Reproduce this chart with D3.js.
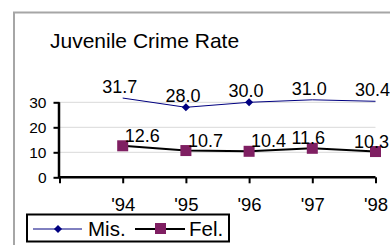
<!DOCTYPE html>
<html>
<head>
<meta charset="utf-8">
<script src="https://d3js.org/d3.v7.min.js"></script>
<style>
  body { margin: 0; background: #fff; }
  svg text { font-family: "Liberation Sans", Arial, sans-serif; fill: #000; }
</style>
</head>
<body>
<div id="chart"></div>
<script>
// values
var years = ["'94", "'95", "'96", "'97", "'98"];
var misdemeanor = [31.7, 28.0, 30.0, 31.0, 30.4];
var felony = [12.6, 10.7, 10.4, 11.6, 10.3];
var yTicks = [0, 10, 20, 30];

var W = 390, H = 245;
var svg = d3.select("#chart").append("svg").attr("width", W).attr("height", H);

// chart frame (right edge is off the picture)
svg.append("path")
  .attr("d", "M14,245 V12.5 H390")
  .attr("fill", "none").attr("stroke", "#a6a6a6").attr("stroke-width", 2);

svg.append("text").attr("x", 50).attr("y", 48)
  .style("font-size", "21px").text("Juvenile Crime Rate");

var x = d3.scaleLinear().domain([0, years.length]).range([59.5, 375.5]);
var y = d3.scaleLinear().domain([0, 30]).range([177.3, 102.3]);

// gridlines
svg.append("g").selectAll("line").data(yTicks.filter(function (d) { return d > 0; }))
  .enter().append("line")
  .attr("x1", x(0)).attr("x2", x(years.length))
  .attr("y1", function (d) { return y(d); }).attr("y2", function (d) { return y(d); })
  .attr("stroke", "#d9d9d9").attr("stroke-width", 1);

// y axis
var yAxis = svg.append("g").attr("transform", "translate(" + x(0) + ",0)")
  .call(d3.axisLeft(y).tickValues(yTicks).tickSize(6).tickPadding(7));
yAxis.selectAll("text").style("font-size", "15.5px");

// x axis
var xAxis = svg.append("g").attr("transform", "translate(0," + y(0) + ")")
  .call(d3.axisBottom(x).ticks(years.length).tickSize(6).tickPadding(15)
    .tickFormat(function (d) { return d > 0 ? years[d - 1] : ""; }));
xAxis.selectAll("text").style("font-size", "18.5px");

[yAxis, xAxis].forEach(function (g) {
  g.select(".domain").attr("stroke", "#000").attr("stroke-width", 2.5);
  g.selectAll(".tick line").attr("stroke", "#000").attr("stroke-width", 2);
});
yAxis.select(".domain").attr("d", "M-0.5," + y(0) + "V" + y(30));
xAxis.select(".domain").attr("d", "M" + x(0) + ",0H" + x(years.length));

var line = d3.line()
  .x(function (d, i) { return x(i + 1); })
  .y(function (d) { return y(d); });

// Mis. series
svg.append("path").datum(misdemeanor).attr("d", line)
  .attr("fill", "none").attr("stroke", "#000080").attr("stroke-width", 1);
var diamond = d3.symbol().type(d3.symbolDiamond2).size(42);
svg.append("g").selectAll("path")
  .data(misdemeanor.map(function (v, i) { return { v: v, i: i }; })
    .filter(function (d) { return d.v <= 30; }))
  .enter().append("path")
  .attr("d", diamond)
  .attr("transform", function (d) { return "translate(" + x(d.i + 1) + "," + y(d.v) + ")"; })
  .attr("fill", "#000080");
svg.append("g").selectAll("text").data(misdemeanor).enter().append("text")
  .attr("x", function (d, i) { return x(i + 1) - 3; })
  .attr("y", function (d) { return y(d) - 5; })
  .attr("text-anchor", "middle").style("font-size", "18px")
  .text(function (d) { return d.toFixed(1); });

// Fel. series
svg.append("path").datum(felony).attr("d", line)
  .attr("fill", "none").attr("stroke", "#000").attr("stroke-width", 2);
svg.append("g").selectAll("rect").data(felony).enter().append("rect")
  .attr("x", function (d, i) { return x(i + 1) - 5.5; })
  .attr("y", function (d) { return y(d) - 5.5; })
  .attr("width", 11).attr("height", 11)
  .attr("fill", "#7f1f62");
svg.append("g").selectAll("text").data(felony).enter().append("text")
  .attr("x", function (d, i) { return i < 3 ? x(i + 1) + 2 : x(i + 1) - 4; })
  .attr("y", function (d) { return y(d) - 4; })
  .attr("text-anchor", function (d, i) { return i < 3 ? "start" : "middle"; })
  .style("font-size", "18px")
  .text(function (d) { return d.toFixed(1); });

// legend
var lg = svg.append("g");
lg.append("rect").attr("x", 27).attr("y", 214.5).attr("width", 202).attr("height", 27)
  .attr("fill", "#fff").attr("stroke", "#000").attr("stroke-width", 2);
lg.append("line").attr("x1", 33).attr("x2", 82).attr("y1", 229).attr("y2", 229)
  .attr("stroke", "#000080").attr("stroke-width", 1);
lg.append("path").attr("d", diamond).attr("transform", "translate(58,229)").attr("fill", "#000080");
lg.append("text").attr("x", 88).attr("y", 235.5).style("font-size", "20.5px").text("Mis.");
lg.append("line").attr("x1", 135).attr("x2", 185).attr("y1", 229).attr("y2", 229)
  .attr("stroke", "#000").attr("stroke-width", 2);
lg.append("rect").attr("x", 155).attr("y", 223).attr("width", 11).attr("height", 11).attr("fill", "#7f1f62");
lg.append("text").attr("x", 189).attr("y", 235.5).style("font-size", "20.5px").text("Fel.");
</script>
</body>
</html>
